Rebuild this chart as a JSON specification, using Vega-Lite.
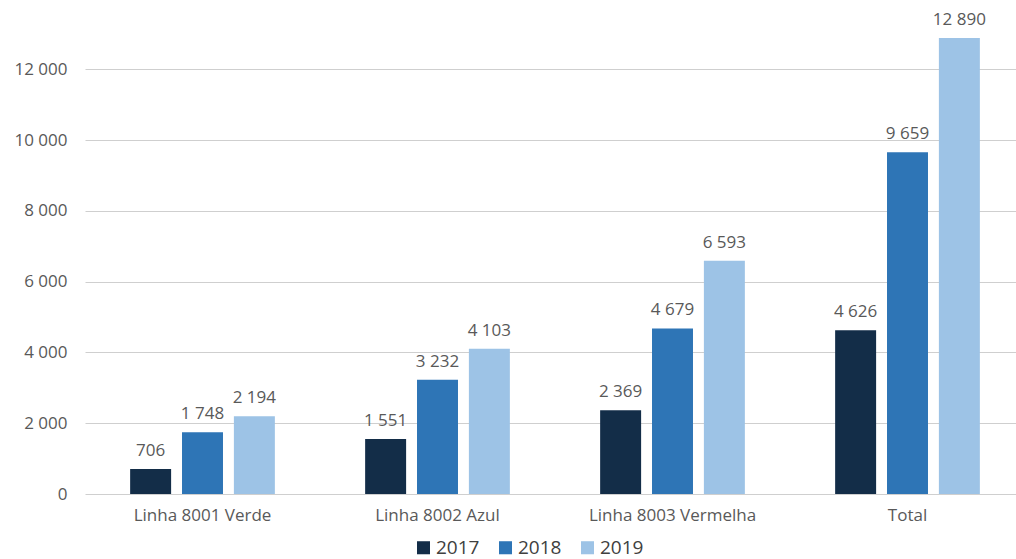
{
  "$schema": "https://vega.github.io/schema/vega-lite/v6.json",
  "autosize": {"type": "none"},
  "width": 940,
  "height": 460,
  "padding": {"left": 85, "top": 34, "right": 0, "bottom": 65},
  "background": "white",
  "config": {
    "locale": {"number": {"decimal": ",", "thousands": " ", "grouping": [3], "currency": ["", ""]}},
    "font": "Open Sans",
    "view": {"stroke": null},
    "axis": {"labelColor": "#595959", "labelFont": "Open Sans", "labelFontSize": 17}
  },
  "data": {
    "values": [
      {"linha": "Linha 8001 Verde", "ano": "2017", "valor": 706},
      {"linha": "Linha 8001 Verde", "ano": "2018", "valor": 1748},
      {"linha": "Linha 8001 Verde", "ano": "2019", "valor": 2194},
      {"linha": "Linha 8002 Azul", "ano": "2017", "valor": 1551},
      {"linha": "Linha 8002 Azul", "ano": "2018", "valor": 3232},
      {"linha": "Linha 8002 Azul", "ano": "2019", "valor": 4103},
      {"linha": "Linha 8003 Vermelha", "ano": "2017", "valor": 2369},
      {"linha": "Linha 8003 Vermelha", "ano": "2018", "valor": 4679},
      {"linha": "Linha 8003 Vermelha", "ano": "2019", "valor": 6593},
      {"linha": "Total", "ano": "2017", "valor": 4626},
      {"linha": "Total", "ano": "2018", "valor": 9659},
      {"linha": "Total", "ano": "2019", "valor": 12890}
    ]
  },
  "encoding": {
    "x": {
      "field": "linha", "type": "nominal", "sort": null,
      "scale": {"paddingInner": 0.34, "paddingOuter": 0.17},
      "axis": {"title": null, "labelAngle": 0, "ticks": false, "domain": false, "labelPadding": 13}
    },
    "xOffset": {"field": "ano", "type": "nominal", "scale": {"paddingInner": 0.21, "paddingOuter": 0.1}},
    "y": {
      "field": "valor", "type": "quantitative",
      "scale": {"domain": [0, 13000], "nice": false},
      "axis": {"title": null, "values": [0, 2000, 4000, 6000, 8000, 10000, 12000], "format": ",d", "ticks": false, "domain": false, "labelPadding": 18, "gridColor": "#cfcfcf", "gridWidth": 1}
    }
  },
  "layer": [
    {
      "mark": {"type": "bar"},
      "encoding": {
        "color": {
          "field": "ano", "type": "nominal",
          "scale": {"domain": ["2017", "2018", "2019"], "range": ["#132d48", "#2e75b6", "#9dc3e6"]},
          "legend": {
            "title": null, "orient": "none", "direction": "horizontal", "columns": 3,
            "legendX": 329, "legendY": 504,
            "symbolType": "square", "symbolSize": 170, "symbolStrokeWidth": 0,
            "labelFontSize": 19, "labelColor": "#404040", "labelOffset": 3, "columnPadding": 16
          }
        }
      }
    },
    {
      "mark": {"type": "text", "baseline": "bottom", "dy": -9, "fontSize": 17, "color": "#595959", "clip": false},
      "encoding": {
        "text": {"field": "valor", "type": "quantitative", "format": ",d"}
      }
    }
  ]
}
